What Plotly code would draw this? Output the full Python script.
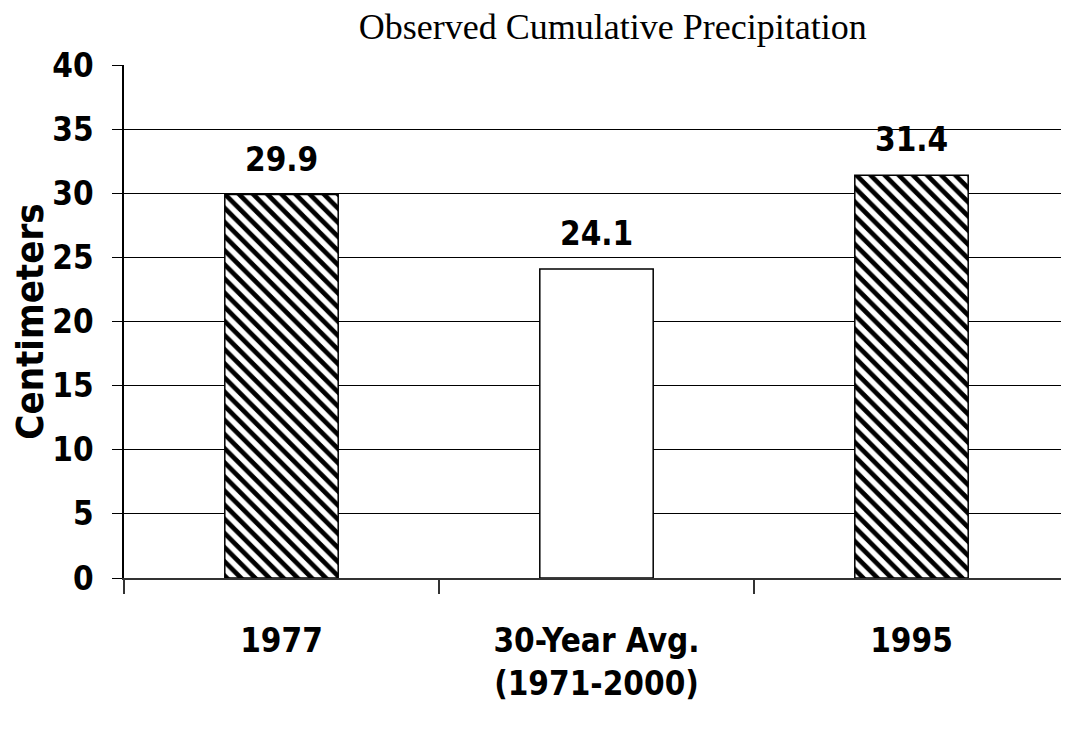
import plotly.graph_objects as go

categories = ["1977", "30-Year Avg.<br>(1971-2000)", "1995"]
precip_cm = [29.9, 24.1, 31.4]
hatched = [True, False, True]

y_ticks = [0, 5, 10, 15, 20, 25, 30, 35, 40]

_BOLD = "DejaVu Sans Condensed, DejaVu Sans, sans-serif"

fig = go.Figure()
fig.add_trace(
    go.Bar(
        x=categories,
        y=precip_cm,
        width=0.36,
        marker={
            "color": "white",
            "line": {"color": "black", "width": 1.5},
            "pattern": {
                "shape": ["\\" if h else "" for h in hatched],
                "fgcolor": "black",
                "fgopacity": 1,
                "bgcolor": "white",
                "size": 10,
                "solidity": 0.47,
            },
        },
        showlegend=False,
    )
)

# value labels sit a little above each bar (x by category index, since
# "1977" would otherwise be read as a number)
for i, val in enumerate(precip_cm):
    fig.add_annotation(
        x=i, y=val, yanchor="bottom", yshift=14,
        text=f"{val:.1f}", showarrow=False,
        font={"family": _BOLD, "size": 33, "color": "black", "weight": "bold"},
    )

# page body has an 8px margin, so the figure is a bit smaller than the window
fig.update_layout(
    width=1061,
    height=747,
    paper_bgcolor="white",
    plot_bgcolor="white",
    margin={"t": 57, "b": 177, "l": 116, "r": 0},
    title={
        "text": "Observed Cumulative Precipitation",
        "font": {"family": "Liberation Serif, Times New Roman, serif", "size": 36, "color": "black"},
        "x": 0.57, "xanchor": "center",
        "y": 0.992, "yanchor": "top",
    },
    xaxis={
        "range": [-0.5, 2.5],
        "showline": True,
        "linecolor": "#333",
        "linewidth": 2,
        "ticks": "outside",
        "tickson": "boundaries",
        "ticklen": 14,
        "tickcolor": "#333",
        "tickwidth": 1.5,
        "showgrid": False,
        "ticklabelstandoff": 32,
        "tickfont": {"family": _BOLD, "size": 33, "color": "black", "weight": "bold"},
    },
    yaxis={
        "range": [0, 40],
        "tickvals": y_ticks,
        "showline": True,
        "linecolor": "black",
        "linewidth": 1.5,
        "ticks": "outside",
        "ticklen": 10,
        "tickcolor": "black",
        "showgrid": True,
        "gridcolor": "black",
        "gridwidth": 1,
        "zeroline": False,
        "ticklabelstandoff": 12,
        "tickfont": {"family": _BOLD, "size": 33, "color": "black", "weight": "bold"},
        "title": {
            "text": "Centimeters",
            "font": {"family": _BOLD, "size": 38, "color": "black", "weight": "bold"},
            "standoff": 12,
        },
    },
)

fig.write_html("out.html")
